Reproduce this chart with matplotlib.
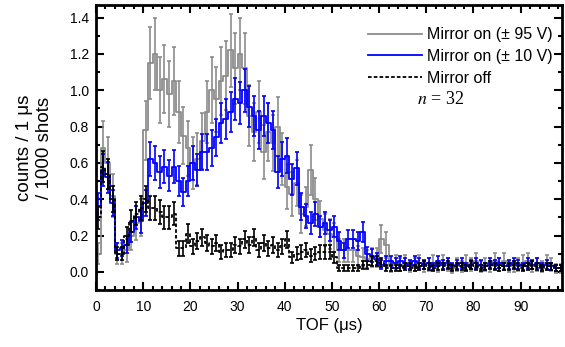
import numpy as np
import matplotlib
matplotlib.use("Agg")
import matplotlib.pyplot as plt
from matplotlib.ticker import MultipleLocator, FormatStrFormatter

# TOF histograms, 1 us bins, counts per 1000 shots

mirror_95 = [0.10, 0.68, 0.60, 0.42, 0.10, 0.10, 0.12, 0.20, 0.27, 0.30,
             0.78, 1.15, 1.20, 1.00, 1.06, 0.98, 1.05, 0.88, 0.75, 0.68,
             0.60, 0.62, 0.72, 0.88, 1.00, 0.95, 1.05, 1.08, 1.22, 1.12,
             1.20, 1.12, 0.86, 0.77, 0.88, 0.66, 0.77, 0.71, 0.80, 0.62,
             0.47, 0.43, 0.49, 0.32, 0.36, 0.56, 0.40, 0.29, 0.23, 0.21,
             0.19, 0.12, 0.12, 0.12, 0.12, 0.09, 0.08, 0.07, 0.08, 0.08,
             0.18, 0.15, 0.03, 0.05, 0.04, 0.05, 0.03, 0.04, 0.05, 0.03,
             0.04, 0.05, 0.03, 0.05, 0.04, 0.02, 0.04, 0.03, 0.05, 0.04,
             0.06, 0.03, 0.04, 0.03, 0.06, 0.04, 0.06, 0.03, 0.03, 0.04,
             0.05, 0.06, 0.03, 0.04, 0.03, 0.05, 0.04, 0.02, 0.02]

mirror_10 = [0.36, 0.56, 0.52, 0.38, 0.12, 0.13, 0.15, 0.22, 0.30, 0.28,
             0.38, 0.62, 0.60, 0.55, 0.58, 0.53, 0.58, 0.50, 0.44, 0.50,
             0.60, 0.56, 0.66, 0.66, 0.68, 0.74, 0.82, 0.84, 0.88, 0.95,
             0.93, 1.00, 0.91, 0.86, 0.78, 0.86, 0.82, 0.78, 0.55, 0.62,
             0.64, 0.51, 0.57, 0.36, 0.31, 0.27, 0.32, 0.25, 0.27, 0.23,
             0.25, 0.17, 0.12, 0.18, 0.18, 0.17, 0.22, 0.10, 0.09, 0.07,
             0.04, 0.06, 0.06, 0.05, 0.06, 0.05, 0.04, 0.06, 0.05, 0.04,
             0.05, 0.03, 0.06, 0.04, 0.05, 0.03, 0.04, 0.05, 0.03, 0.04,
             0.05, 0.04, 0.03, 0.05, 0.04, 0.05, 0.03, 0.04, 0.05, 0.04,
             0.03, 0.05, 0.04, 0.05, 0.03, 0.04, 0.03, 0.02, 0.02]

mirror_off = [0.30, 0.58, 0.54, 0.40, 0.10, 0.10, 0.20, 0.28, 0.32, 0.35,
              0.40, 0.35, 0.35, 0.33, 0.30, 0.30, 0.32, 0.13, 0.13, 0.21,
              0.14, 0.17, 0.19, 0.16, 0.14, 0.16, 0.11, 0.12, 0.12, 0.15,
              0.14, 0.18, 0.15, 0.19, 0.12, 0.16, 0.13, 0.15, 0.12, 0.14,
              0.18, 0.08, 0.10, 0.11, 0.12, 0.09, 0.10, 0.11, 0.11, 0.11,
              0.08, 0.02, 0.02, 0.02, 0.02, 0.02, 0.04, 0.04, 0.06, 0.06,
              0.05, 0.02, 0.02, 0.02, 0.02, 0.03, 0.03, 0.02, 0.03, 0.04,
              0.03, 0.02, 0.03, 0.03, 0.04, 0.02, 0.03, 0.03, 0.02, 0.04,
              0.03, 0.02, 0.03, 0.04, 0.03, 0.02, 0.03, 0.03, 0.04, 0.03,
              0.02, 0.03, 0.04, 0.03, 0.02, 0.03, 0.03, 0.02, 0.02]

# total shots behind each series (Poisson error bars)
shots = {"95": 30000, "10": 70000, "off": 80000}

tof = np.arange(len(mirror_95)) + 0.5

series = [
    (mirror_95, shots["95"], "#8c8c8c", "-", "Mirror on (± 95 V)"),
    (mirror_10, shots["10"], "#0000ff", "-", "Mirror on (± 10 V)"),
    (mirror_off, shots["off"], "#000000", (0, (2.0, 1.2)), "Mirror off"),
]

plt.rcParams['font.family'] = ['Liberation Sans', 'DejaVu Sans']
plt.rcParams['mathtext.fontset'] = 'stix'

fig = plt.figure(figsize=(5.65, 3.47), dpi=100)
ax = fig.add_axes([0.170, 0.164, 0.825, 0.822])

for vals, n_shots, col, ls, lab in series:
    v = np.array(vals)
    err = np.sqrt(v * 1000.0 / n_shots)
    ax.errorbar(tof, v, yerr=err, fmt="none", ecolor=col, elinewidth=1.2,
                capsize=1.6, capthick=1.2)
    ax.plot(tof, v, drawstyle="steps-mid", color=col, ls=ls, lw=1.3,
            label=lab)

ax.set_xlim(0, 98.8)
ax.set_ylim(-0.1, 1.47)

ax.xaxis.set_major_locator(MultipleLocator(10))
ax.xaxis.set_minor_locator(MultipleLocator(2))
ax.yaxis.set_major_locator(MultipleLocator(0.2))
ax.yaxis.set_minor_locator(MultipleLocator(0.1))
ax.yaxis.set_major_formatter(FormatStrFormatter("%.1f"))

ax.tick_params(which="both", direction="in", top=True, right=True,
               labelsize=10, width=1.5)
ax.tick_params(which="major", length=5.5)
ax.tick_params(which="minor", length=3)
ax.tick_params(axis="x", pad=7)
ax.tick_params(axis="y", pad=5)
for sp in ax.spines.values():
    sp.set_linewidth(2)

ax.set_xlabel("TOF (μs)", fontsize=12, labelpad=3)
ax.set_ylabel("counts / 1 μs\n/ 1000 shots", fontsize=13.5, labelpad=12,
              linespacing=1.2)

leg = ax.legend(loc="upper right", bbox_to_anchor=(1.0, 0.955), frameon=False,
                fontsize=11.5, handlelength=3.4, handletextpad=0.3,
                labelspacing=0.42, borderaxespad=0.2)
ax.text(0.689, 0.669, "$n$ = 32", transform=ax.transAxes, fontsize=13,
        family="Liberation Serif", va="center")

fig.savefig("out.png", dpi=100)
